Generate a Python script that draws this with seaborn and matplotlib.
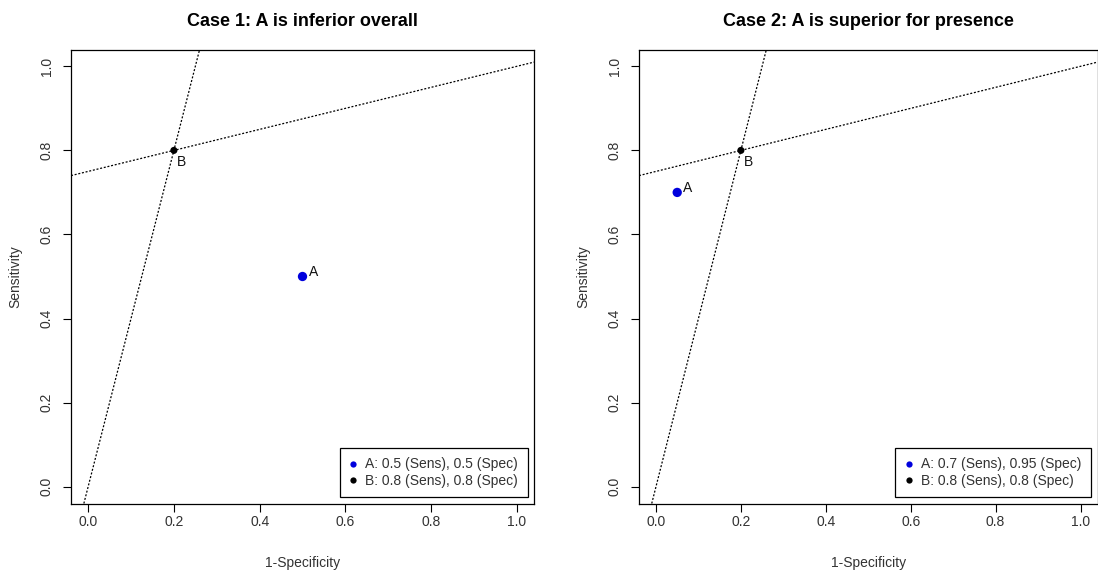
import matplotlib
matplotlib.use("Agg")
import matplotlib.pyplot as plt
from matplotlib.lines import Line2D
import seaborn as sns
import pandas as pd

# Test characteristics
titles = ["Case 1: A is inferior overall", "Case 2: A is superior for presence"]
sens_a = [0.5, 0.7]
spec_a = [0.5, 0.95]
sens_b = 0.8
spec_b = 0.8
tick_values = [0.0, 0.2, 0.4, 0.6, 0.8, 1.0]

sns.set_style("ticks")
plt.rcParams["font.family"] = ["Liberation Sans", "DejaVu Sans"]

W, H = 1098, 575
fig = plt.figure(figsize=(W / 100, H / 100), dpi=100)

# plot regions in pixel units: left, right, top, bottom
regions = [(71, 534, 49.5, 503.5), (639, 1097.5, 49.5, 503.5)]

text_grey = "#333333"
blue = "#0000DD"

for i, (l, r, t, b) in enumerate(regions):
    ax = fig.add_axes([l / W, (H - b) / H, (r - l) / W, (b - t) / H])

    df = pd.DataFrame({
        "fpr": [1 - spec_a[i], 1 - spec_b],
        "sens": [sens_a[i], sens_b],
        "test": ["A", "B"],
    })

    # likelihood-ratio lines through B
    pb = (1 - spec_b, sens_b)
    ax.axline((0, 0), pb, color="black", lw=0.9, ls=(0, (1.6, 1.4)), zorder=1)
    ax.axline((1, 1), pb, color="black", lw=0.9, ls=(0, (1.6, 1.4)), zorder=1)

    sns.scatterplot(data=df.iloc[[0]], x="fpr", y="sens", ax=ax, color=blue,
                    s=45, edgecolor="none", legend=False, zorder=3)
    sns.scatterplot(data=df.iloc[[1]], x="fpr", y="sens", ax=ax, color="black",
                    s=26, edgecolor="none", legend=False, zorder=3)

    ax.annotate("A", (df.fpr[0], df.sens[0]), xytext=(4.5, 3.5),
                textcoords="offset points", ha="left", va="center",
                fontsize=10, color="#111111")
    ax.annotate("B", (df.fpr[1], df.sens[1]), xytext=(2.5, -8),
                textcoords="offset points", ha="left", va="center",
                fontsize=10, color="#111111")

    ax.set_xlim(-0.04, 1.04)
    ax.set_ylim(-0.04, 1.04)
    ax.set_xticks(tick_values)
    ax.set_yticks(tick_values)
    ax.set_xticklabels([f"{v:.1f}" for v in tick_values])
    ax.set_yticklabels([f"{v:.1f}" for v in tick_values], rotation=90, va="center")
    ax.tick_params(axis="both", direction="out", length=5.5, width=0.8,
                   color="black", labelsize=10, labelcolor=text_grey)
    ax.tick_params(axis="x", pad=3)
    ax.tick_params(axis="y", pad=7)
    for sp in ax.spines.values():
        sp.set_visible(True)
        sp.set_color("black")
        sp.set_linewidth(0.9)

    ax.set_xlabel("1-Specificity", fontsize=10, color=text_grey)
    ax.set_ylabel("Sensitivity", fontsize=10, color=text_grey)
    ax.xaxis.set_label_coords(0.5, -(563 - b) / (b - t))
    ax.xaxis.label.set_va("center")
    ax.yaxis.set_label_coords(-56 / (r - l), 0.5)
    ax.yaxis.label.set_va("center")

    ax.set_title(titles[i], fontsize=13, fontweight="bold", color="black", pad=17)

    handles = [
        Line2D([], [], ls="none", marker="o", ms=4.5, color=blue, mec="none"),
        Line2D([], [], ls="none", marker="o", ms=4.5, color="black", mec="none"),
    ]
    labels = [
        f"A: {sens_a[i]:g} (Sens), {spec_a[i]:g} (Spec)",
        f"B: {sens_b:g} (Sens), {spec_b:g} (Spec)",
    ]
    leg = ax.legend(handles, labels, loc="lower right", fontsize=10,
                    frameon=True, fancybox=False, framealpha=1,
                    edgecolor="black", borderaxespad=0.45, borderpad=0.7,
                    handlelength=0.6, handletextpad=0.55, labelspacing=0.15)
    leg.get_frame().set_linewidth(0.9)
    for txt in leg.get_texts():
        txt.set_color(text_grey)

fig.savefig("out.png", dpi=100, facecolor="white")
